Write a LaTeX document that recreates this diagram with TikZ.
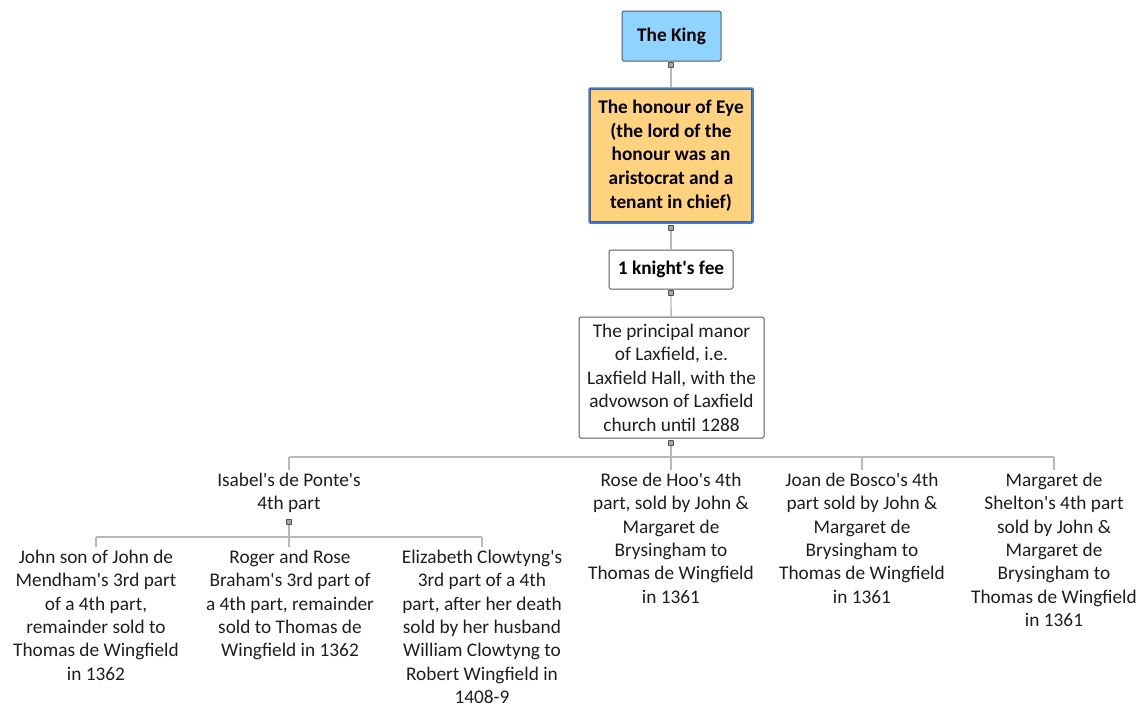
\documentclass[tikz,border=0pt]{standalone}
\usepackage{fontspec}
\setmainfont{Carlito}[Ligatures=TeXOff]
\definecolor{kingblue}{HTML}{8FD3FF}
\definecolor{honourfill}{HTML}{FFD27F}
\definecolor{honourblue}{HTML}{3B7BE0}
\definecolor{boxline}{HTML}{5A5A5A}
\definecolor{connline}{HTML}{B8B8B8}
\definecolor{knobfill}{HTML}{A8A8A8}
\definecolor{knobline}{HTML}{505050}
\definecolor{textcol}{HTML}{1E1E1E}
\begin{document}
\begin{tikzpicture}[x=1pt,y=-1pt,
  every node/.style={font=\fontsize{19.3}{23.45}\selectfont, text=textcol, inner sep=0pt, align=center},
  box/.style={draw=boxline, line width=1pt, rounded corners=1.5pt, fill=white},
  boldtext/.style={font=\fontsize{19.3}{23.6}\selectfont\bfseries, text=black},
  conn/.style={draw=connline, line width=1.3pt},
  knob/.style={draw=knobline, fill=knobfill, line width=0.8pt, minimum size=5pt, inner sep=0pt, rounded corners=0.8pt},
  leaf/.style={anchor=north}]
\useasboundingbox (0,0) rectangle (1143,707);

% upper chain of boxes
\node[box, boldtext, fill=kingblue, minimum width=99, minimum height=50] (king) at (671.5,36) {The King};
\node[box, boldtext, fill=honourfill, draw=honourblue, line width=2.5pt, rounded corners=1pt,
      minimum width=163, minimum height=134] (honour) at (671,155.5)
  {The honour of Eye\\(the lord of the\\honour was an\\aristocrat and a\\tenant in chief)};
\draw[boxline, line width=0.9pt] ([shift={(2.2,-2.2)}]honour.south west) rectangle ([shift={(-2.2,2.2)}]honour.north east);
\node[box, boldtext, minimum width=124, minimum height=39] (fee) at (671,269.5) {1 knight's fee};
\node[box, minimum width=185, minimum height=121] (manor) at (671.5,377.5)
  {The principal manor\\of Laxfield, i.e.\\Laxfield Hall, with the\\advowson of Laxfield\\church until 1288};

% first row of parts
\node[leaf] (isabel) at (289,469.5) {\strut Isabel's de Ponte's\\4th part};
\node[leaf] (rose) at (671,469.5) {\strut Rose de Hoo's 4th\\part, sold by John \&\\Margaret de\\Brysingham to\\Thomas de Wingfield\\in 1361};
\node[leaf] (joan) at (862,469.5) {\strut Joan de Bosco's 4th\\part sold by John \&\\Margaret de\\Brysingham to\\Thomas de Wingfield\\in 1361};
\node[leaf] (margaret) at (1054,469.5) {\strut Margaret de\\Shelton's 4th part\\sold by John \&\\Margaret de\\Brysingham to\\Thomas de Wingfield\\in 1361};

% shares of Isabel's part
\node[leaf] (john) at (96,546.5) {\strut John son of John de\\Mendham's 3rd part\\of a 4th part,\\remainder sold to\\Thomas de Wingfield\\in 1362};
\node[leaf] (roger) at (290,546.5) {\strut Roger and Rose\\Braham's 3rd part of\\a 4th part, remainder\\sold to Thomas de\\Wingfield in 1362};
\node[leaf] (elizabeth) at (482,546.5) {\strut Elizabeth Clowtyng's\\3rd part of a 4th\\part, after her death\\sold by her husband\\William Clowtyng to\\Robert Wingfield in\\1408-9};

% collapse knobs under each parent
\node[knob] (k1) at (671,65) {};
\node[knob] (k2) at (671,228) {};
\node[knob] (k3) at (671,293) {};
\node[knob] (k4) at (671,443) {};
\node[knob] (k5) at (289,522) {};

\coordinate (bus) at (0,457);
\coordinate (sub) at (0,537);

% connectors
\draw[conn] (k1) -- (honour);
\draw[conn] (k2) -- (fee);
\draw[conn] (k3) -- (manor);
\draw[conn] (k4) -- (k4 |- bus);
\draw[conn] (isabel.north |- bus) -- (margaret.north |- bus);
\draw[conn] (isabel.north |- bus) -- (isabel.north);
\draw[conn] (rose.north |- bus) -- (rose.north);
\draw[conn] (joan.north |- bus) -- (joan.north);
\draw[conn] (margaret.north |- bus) -- (margaret.north);
\draw[conn] (k5) -- (k5 |- sub);
\draw[conn] (john.north |- sub) -- (elizabeth.north |- sub);
\draw[conn] (john.north |- sub) -- (john.north);
\draw[conn] (k5 |- sub) -- (k5 |- roger.north);
\draw[conn] (elizabeth.north |- sub) -- (elizabeth.north);

% redraw knobs on top of the connector lines
\foreach \k in {k1,k2,k3,k4,k5}
  \node[knob] at (\k) {};
\end{tikzpicture}
\end{document}
